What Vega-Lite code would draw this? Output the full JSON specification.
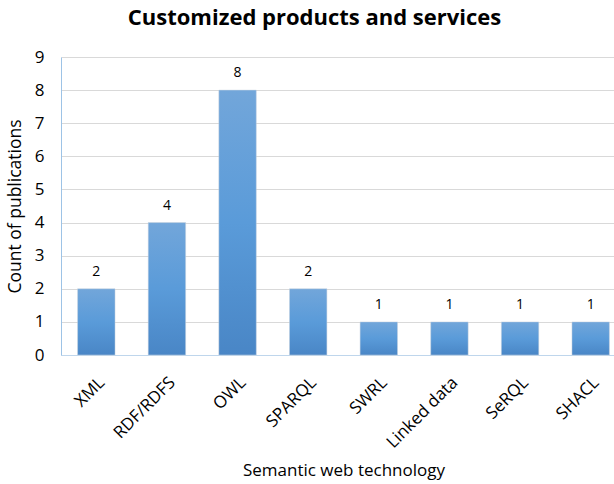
{
  "$schema": "https://vega.github.io/schema/vega-lite/v6.json",
  "autosize": "none",
  "width": 565,
  "height": 298,
  "padding": {"left": 61, "top": 57, "right": 0, "bottom": 129},
  "background": "white",
  "title": {
    "text": "Customized products and services",
    "font": "Open Sans",
    "fontSize": 22,
    "fontWeight": "bold",
    "color": "#000000",
    "anchor": "middle",
    "dx": -29,
    "offset": 18
  },
  "data": {
    "values": [
      {"tech": "XML", "count": 2},
      {"tech": "RDF/RDFS", "count": 4},
      {"tech": "OWL", "count": 8},
      {"tech": "SPARQL", "count": 2},
      {"tech": "SWRL", "count": 1},
      {"tech": "Linked data", "count": 1},
      {"tech": "SeRQL", "count": 1},
      {"tech": "SHACL", "count": 1}
    ]
  },
  "encoding": {
    "x": {
      "field": "tech",
      "type": "nominal",
      "sort": null,
      "scale": {"paddingInner": 0.47, "paddingOuter": 0.235},
      "axis": {
        "title": "Semantic web technology",
        "titleFont": "Open Sans",
        "titleFontSize": 17,
        "titleFontWeight": "normal",
        "titleColor": "#000000",
        "titlePadding": 12,
        "labelAngle": -45,
        "labelFont": "Open Sans",
        "labelFontSize": 17,
        "labelColor": "#000000",
        "labelPadding": 19,
        "ticks": false,
        "domainColor": "#BFD6EC",
        "domainWidth": 1
      }
    },
    "y": {
      "field": "count",
      "type": "quantitative",
      "scale": {"domain": [0, 9]},
      "axis": {
        "title": "Count of publications",
        "titleFont": "Open Sans",
        "titleFontSize": 17.5,
        "titleFontWeight": "normal",
        "titleColor": "#000000",
        "titlePadding": 10,
        "values": [0, 1, 2, 3, 4, 5, 6, 7, 8, 9],
        "labelFont": "Open Sans",
        "labelFontSize": 17,
        "labelColor": "#000000",
        "labelPadding": 17,
        "tickSize": 0,
        "gridColor": "#D9D9D9",
        "domainColor": "#9DC3E6"
      }
    }
  },
  "layer": [
    {
      "mark": {
        "type": "bar",
        "stroke": "#C8D3DE",
        "strokeWidth": 0.5,
        "color": {
          "gradient": "linear",
          "x1": 0, "y1": 0, "x2": 0, "y2": 1,
          "stops": [
            {"offset": 0, "color": "#72A6DA"},
            {"offset": 0.5, "color": "#5A9BD9"},
            {"offset": 1, "color": "#4986C6"}
          ]
        }
      }
    },
    {
      "mark": {
        "type": "text",
        "dy": -17,
        "font": "Open Sans",
        "fontSize": 14,
        "color": "#000000"
      },
      "encoding": {"text": {"field": "count", "type": "quantitative"}}
    }
  ],
  "config": {"view": {"stroke": null}}
}
